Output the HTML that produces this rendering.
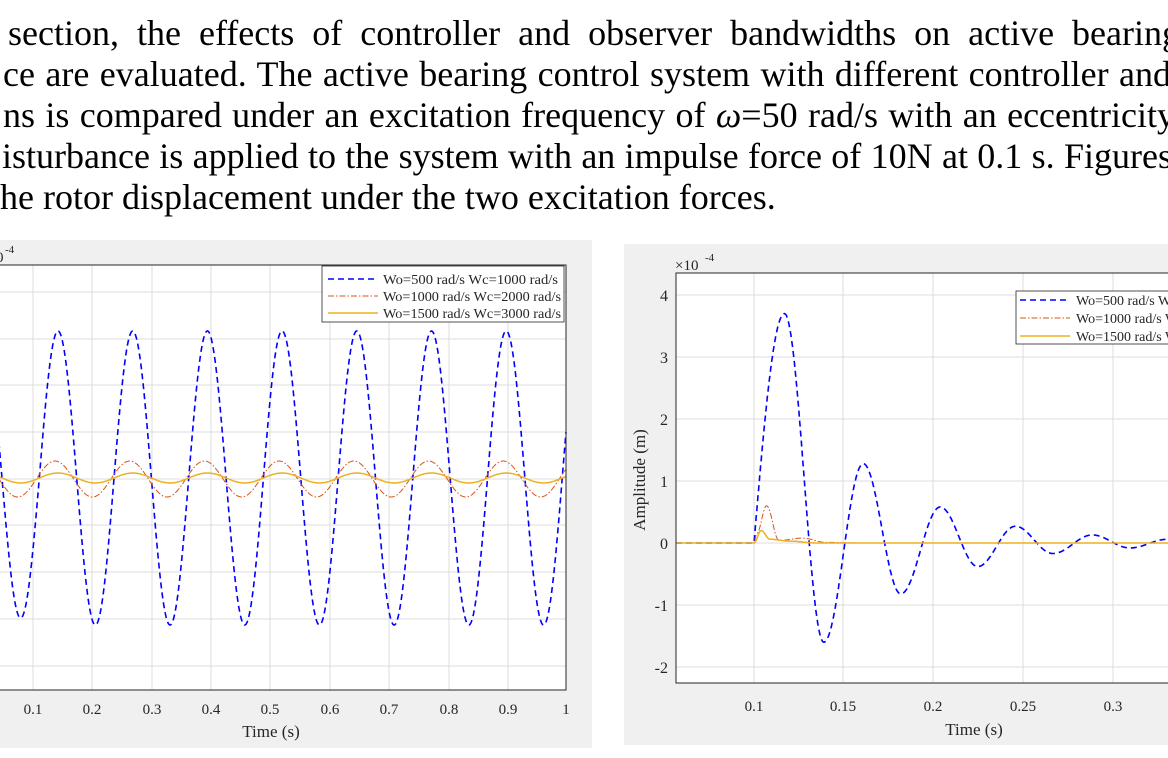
<!DOCTYPE html>
<html><head><meta charset="utf-8">
<style>
html,body{margin:0;padding:0;background:#fff;}
body{width:1168px;height:758px;position:relative;overflow:hidden;font-family:"Liberation Serif",serif;}
.ln{position:absolute;white-space:nowrap;font-size:36px;line-height:36px;color:#000;}
.j{text-align:justify;text-align-last:justify;white-space:normal;}
svg{position:absolute;left:0;top:0;}
</style></head><body>
<div class="ln j" style="left:8px;top:15px;width:1172px;">section, the effects of controller and observer bandwidths on active bearing</div>
<div class="ln j" style="left:3px;top:56px;width:1168px;">ce are evaluated. The active bearing control system with different controller and</div>
<div class="ln j" style="left:3px;top:97px;width:1172px;">ns is compared under an excitation frequency of <i>ω</i>=50 rad/s with an eccentricity</div>
<div class="ln j" style="left:2px;top:138px;width:1170px;">isturbance is applied to the system with an impulse force of 10N at 0.1 s. Figures</div>
<div class="ln" style="left:0px;top:179px;">he rotor displacement under the two excitation forces.</div>

<svg width="1168" height="758" xmlns="http://www.w3.org/2000/svg" font-family="Liberation Serif, serif">
 <rect x="0" y="240" width="592" height="508" fill="#f0f0f0"/>
 <rect x="-2" y="265" width="568" height="425" fill="#fff" stroke="#262626" stroke-width="1"/>
 <g stroke="#dcdcdc" stroke-width="1">
  <line x1="0" x2="566" y1="292" y2="292"/><line x1="0" x2="566" y1="339" y2="339"/>
  <line x1="0" x2="566" y1="385" y2="385"/><line x1="0" x2="566" y1="432" y2="432"/>
  <line x1="0" x2="566" y1="479" y2="479"/><line x1="0" x2="566" y1="525" y2="525"/>
  <line x1="0" x2="566" y1="572" y2="572"/><line x1="0" x2="566" y1="619" y2="619"/>
  <line x1="0" x2="566" y1="666" y2="666"/>
  <line x1="33" x2="33" y1="265" y2="690"/><line x1="92" x2="92" y1="265" y2="690"/>
  <line x1="152" x2="152" y1="265" y2="690"/><line x1="211" x2="211" y1="265" y2="690"/>
  <line x1="270" x2="270" y1="265" y2="690"/><line x1="330" x2="330" y1="265" y2="690"/>
  <line x1="389" x2="389" y1="265" y2="690"/><line x1="449" x2="449" y1="265" y2="690"/>
  <line x1="508" x2="508" y1="265" y2="690"/>
 </g>
 <path id="lb" fill="none" stroke="#0000ff" stroke-width="1.6" stroke-dasharray="6,4"/>
 <path id="lo" fill="none" stroke="#d95319" stroke-width="1" stroke-dasharray="6,2,1.5,2"/>
 <path id="ly" fill="none" stroke="#edb120" stroke-width="1.5"/>
 <rect x="-2" y="265" width="568" height="425" fill="none" stroke="#262626" stroke-width="1"/>
 <g fill="#262626" font-size="15" text-anchor="middle">
  <text x="33" y="714">0.1</text><text x="92" y="714">0.2</text><text x="152" y="714">0.3</text>
  <text x="211" y="714">0.4</text><text x="270" y="714">0.5</text><text x="330" y="714">0.6</text>
  <text x="389" y="714">0.7</text><text x="449" y="714">0.8</text><text x="508" y="714">0.9</text>
  <text x="566" y="714">1</text>
  <text x="271" y="737" font-size="17">Time (s)</text>
 </g>
 <text x="-4" y="262" font-size="15" fill="#262626">0</text><text x="5" y="253" font-size="11" fill="#262626">-4</text>
 <rect x="322" y="266" width="242" height="56" fill="#fff" stroke="#262626" stroke-width="0.8"/>
 <line x1="328" x2="378" y1="279" y2="279" stroke="#0000ff" stroke-width="1.5" stroke-dasharray="6,4"/>
 <line x1="328" x2="378" y1="296" y2="296" stroke="#d95319" stroke-width="1" stroke-dasharray="6,2,1.5,2"/>
 <line x1="328" x2="378" y1="313" y2="313" stroke="#edb120" stroke-width="1.5"/>
 <g font-size="14" fill="#262626" textLength="175">
  <text x="383" y="284" textLength="175" lengthAdjust="spacingAndGlyphs">Wo=500 rad/s Wc=1000 rad/s</text>
  <text x="383" y="301" textLength="178" lengthAdjust="spacingAndGlyphs">Wo=1000 rad/s Wc=2000 rad/s</text>
  <text x="383" y="318" textLength="178" lengthAdjust="spacingAndGlyphs">Wo=1500 rad/s Wc=3000 rad/s</text>
 </g>

 <rect x="624" y="244" width="560" height="501" fill="#f0f0f0"/>
 <rect x="676" y="273" width="500" height="410" fill="#fff" stroke="#262626" stroke-width="1"/>
 <g stroke="#dcdcdc" stroke-width="1">
  <line x1="676" x2="1168" y1="295" y2="295"/><line x1="676" x2="1168" y1="357" y2="357"/>
  <line x1="676" x2="1168" y1="419" y2="419"/><line x1="676" x2="1168" y1="481" y2="481"/>
  <line x1="676" x2="1168" y1="543" y2="543"/><line x1="676" x2="1168" y1="605" y2="605"/>
  <line x1="676" x2="1168" y1="667" y2="667"/>
  <line x1="754" x2="754" y1="273" y2="683"/><line x1="843" x2="843" y1="273" y2="683"/>
  <line x1="933" x2="933" y1="273" y2="683"/><line x1="1023" x2="1023" y1="273" y2="683"/>
  <line x1="1113" x2="1113" y1="273" y2="683"/>
 </g>
 <path id="rb" fill="none" stroke="#0000ff" stroke-width="1.6" stroke-dasharray="6,4"/>
 <path id="ro" fill="none" stroke="#d95319" stroke-width="1" stroke-dasharray="6,2,1.5,2"/>
 <path id="ry" fill="none" stroke="#edb120" stroke-width="1.5"/>
 <rect x="676" y="273" width="500" height="410" fill="none" stroke="#262626" stroke-width="1"/>
 <g fill="#262626" font-size="16" text-anchor="end">
  <text x="668" y="301">4</text><text x="668" y="363">3</text><text x="668" y="425">2</text>
  <text x="668" y="487">1</text><text x="668" y="549">0</text><text x="668" y="611">-1</text>
  <text x="668" y="673">-2</text>
 </g>
 <g fill="#262626" font-size="15" text-anchor="middle">
  <text x="754" y="711">0.1</text><text x="843" y="711">0.15</text><text x="933" y="711">0.2</text>
  <text x="1023" y="711">0.25</text><text x="1113" y="711">0.3</text>
  <text x="974" y="735" font-size="17">Time (s)</text>
 </g>
 <text transform="translate(645,480) rotate(-90)" font-size="17" fill="#262626" text-anchor="middle">Amplitude (m)</text>
 <text x="675" y="270" font-size="15" fill="#262626">×10</text><text x="705" y="261" font-size="11" fill="#262626">-4</text>
 <rect x="1016" y="291" width="170" height="53" fill="#fff" stroke="#262626" stroke-width="0.8"/>
 <line x1="1020" x2="1070" y1="300" y2="300" stroke="#0000ff" stroke-width="1.5" stroke-dasharray="6,4"/>
 <line x1="1020" x2="1070" y1="318" y2="318" stroke="#d95319" stroke-width="1" stroke-dasharray="6,2,1.5,2"/>
 <line x1="1020" x2="1070" y1="336" y2="336" stroke="#edb120" stroke-width="1.5"/>
 <g font-size="14" fill="#262626">
  <text x="1076" y="305">Wo=500 rad/s Wc=1000 rad/s</text>
  <text x="1076" y="323">Wo=1000 rad/s Wc=2000 rad/s</text>
  <text x="1076" y="341">Wo=1500 rad/s Wc=3000 rad/s</text>
 </g>
</svg>
<script>
(function(){
 function sp(fn,x0,x1){var d="";for(var x=x0;x<=x1;x+=0.5){var y=fn(x);d+=(d?"L":"M")+x.toFixed(1)+" "+y.toFixed(1);}return d;}
 var P=74.7;
 document.getElementById("lb").setAttribute("d",sp(function(x){var a=147;if(x<40)a=140;return 478-a*Math.cos(2*Math.PI*(x-58)/P);},-2,566));
 document.getElementById("lo").setAttribute("d",sp(function(x){return 479-18*Math.cos(2*Math.PI*(x-55)/P);},-2,566));
 document.getElementById("ly").setAttribute("d",sp(function(x){return 478-5*Math.cos(2*Math.PI*(x-58)/P);},-2,566));
 var X=function(t){return 754+(t-0.1)*1790;}, Y=function(v){return 543-62*v;};
 var ex=[[0.1,0],[0.117,3.7],[0.139,-1.6],[0.161,1.28],[0.182,-0.82],[0.204,0.58],[0.225,-0.38],[0.246,0.27],[0.267,-0.17],[0.289,0.13],[0.31,-0.08],[0.331,0.06],[0.352,-0.04],[0.373,0.03]];
 function ip(list,t){if(t<=list[0][0])return 0;for(var i=0;i<list.length-1;i++){var a=list[i],b=list[i+1];if(t<=b[0]){var s=(t-a[0])/(b[0]-a[0]);if(i==0&&list===ex)return b[1]*Math.sin(s*Math.PI/2);return a[1]+(b[1]-a[1])*(1-Math.cos(s*Math.PI))/2;}}return list[list.length-1][1];}
 function rp(list,t0,t1){var d="";for(var t=t0;t<=t1;t+=0.0002){d+=(d?"L":"M")+X(t).toFixed(1)+" "+Y(ip(list,t)).toFixed(1);}return d;}
 document.getElementById("rb").setAttribute("d",rp(ex,0.0564,0.3315));
 var eo=[[0.1,0],[0.1015,0.15],[0.107,0.6],[0.114,0.04],[0.127,0.08],[0.14,0.01],[0.16,0]];
 document.getElementById("ro").setAttribute("d",rp(eo,0.0564,0.3315));
 var ey=[[0.1,0],[0.104,0.2],[0.109,0.06],[0.12,0.03],[0.135,0],[0.2,0]];
 document.getElementById("ry").setAttribute("d",rp(ey,0.0564,0.3315));
})();
</script>
</body></html>
